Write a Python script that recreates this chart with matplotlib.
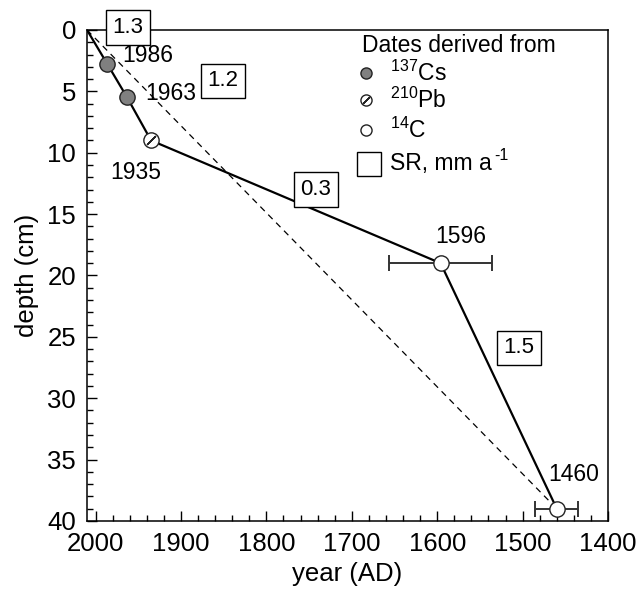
import matplotlib
matplotlib.use("Agg")
import matplotlib.pyplot as plt
import numpy as np

plt.rcParams['font.family'] = ['Liberation Sans', 'DejaVu Sans']
plt.rcParams['mathtext.fontset'] = 'custom'
plt.rcParams['mathtext.rm'] = 'Liberation Sans'
plt.rcParams['mathtext.default'] = 'regular'

# dated horizons
cs_year = [1986, 1963]
cs_depth = [2.8, 5.5]
pb_year = [1935]
pb_depth = [9.0]
c14_year = [1596, 1460]
c14_depth = [19.0, 39.0]
c14_err = [60, 25]

# age-depth line (core top at 2010)
line_year = [2010, 1986, 1963, 1935, 1596, 1460]
line_depth = [0, 2.8, 5.5, 9.0, 19.0, 39.0]
mean_year = [2010, 1460]
mean_depth = [0, 39.0]

# sedimentation rate boxes
sr_text = ['1.3', '1.2', '0.3', '1.5']
sr_year = [1962, 1851, 1742, 1504]
sr_depth = [-0.2, 4.15, 13.0, 25.9]

# date labels
lab_text = ['1986', '1963', '1935', '1596', '1460']
lab_year = [1969, 1942, 1953, 1573, 1440]
lab_depth = [2.1, 5.2, 11.6, 16.8, 36.2]
lab_ha = ['left', 'left', 'center', 'center', 'center']

fig = plt.figure(figsize=(6.43, 5.98), dpi=100)
ax = fig.add_axes([0.1353, 0.1288, 0.8103, 0.8211])

ax.plot(mean_year, mean_depth, 'k--', lw=0.9, dashes=(5, 4))
ax.plot(line_year, line_depth, 'k-', lw=1.6, zorder=3)

ax.errorbar(c14_year, c14_depth, xerr=c14_err, fmt='none', ecolor='#333333',
            elinewidth=1.4, capsize=6, capthick=1.4, zorder=2)
ax.plot(cs_year, cs_depth, 'o', ms=11, mfc='#808080', mec='#222222', mew=1, zorder=4)
ax.plot(pb_year, pb_depth, 'o', ms=11, mfc='white', mec='#222222', mew=1, zorder=4)
ax.plot(pb_year, pb_depth, marker=(2, 2, -45), ms=9, mec='#222222', mew=1, ls='none', zorder=5)
ax.plot(c14_year, c14_depth, 'o', ms=11, mfc='white', mec='#222222', mew=1, zorder=4)

for t, x, y in zip(sr_text, sr_year, sr_depth):
    ax.text(x, y, t, fontsize=16, ha='center', va='center', zorder=6, clip_on=False,
            bbox=dict(boxstyle='square,pad=0.3', fc='white', ec='black', lw=1))

for t, x, y, ha in zip(lab_text, lab_year, lab_depth, lab_ha):
    ax.text(x, y, t, fontsize=16.5, ha=ha, va='center')

# legend
ax.text(0.527, 0.969, 'Dates derived from', transform=ax.transAxes, fontsize=16.5, va='center')
ax.plot([0.5355], [0.912], 'o', ms=8, mfc='#808080', mec='#222222', transform=ax.transAxes)
ax.plot([0.5355], [0.857], 'o', ms=8, mfc='white', mec='#222222', transform=ax.transAxes)
ax.plot([0.5355], [0.857], marker=(2, 2, -45), ms=7, mec='#222222', transform=ax.transAxes)
ax.plot([0.5355], [0.796], 'o', ms=8, mfc='white', mec='#222222', transform=ax.transAxes)
ax.plot([0.541], [0.727], 's', ms=17, mfc='white', mec='black', mew=1, transform=ax.transAxes)
leg_labels = [r'$^{137}$Cs', r'$^{210}$Pb', r'$^{14}$C']
leg_y = [0.912, 0.857, 0.796]
for t, y in zip(leg_labels, leg_y):
    ax.text(0.5816, y, t, transform=ax.transAxes, fontsize=16.5, va='center')
sr = ax.text(0.5816, 0.729, 'SR, mm a', transform=ax.transAxes, fontsize=16.5, va='center')
fig.canvas.draw()
bb = sr.get_window_extent().transformed(ax.transAxes.inverted())
ax.text(bb.x1 + 0.004, 0.745, '-1', transform=ax.transAxes, fontsize=11.5, va='center')

ax.set_xlim(2010, 1400)
ax.set_ylim(40, 0)
ax.set_xticks(np.arange(2000, 1399, -100))
ax.set_xticks(np.arange(2000, 1399, -20), minor=True)
ax.set_yticks(np.arange(0, 41, 5))
ax.set_yticks(np.arange(0, 41, 1), minor=True)
ax.tick_params(which='both', direction='in', labelsize=18.5, width=1)
ax.tick_params(which='major', length=7, pad=8)
ax.tick_params(which='minor', length=4)
for s in ax.spines.values():
    s.set_linewidth(1.1)

ax.set_xlabel('year (AD)', fontsize=18.5, labelpad=4)
ax.set_ylabel('depth (cm)', fontsize=18.5, labelpad=6)

fig.savefig('out.png', dpi=100)
